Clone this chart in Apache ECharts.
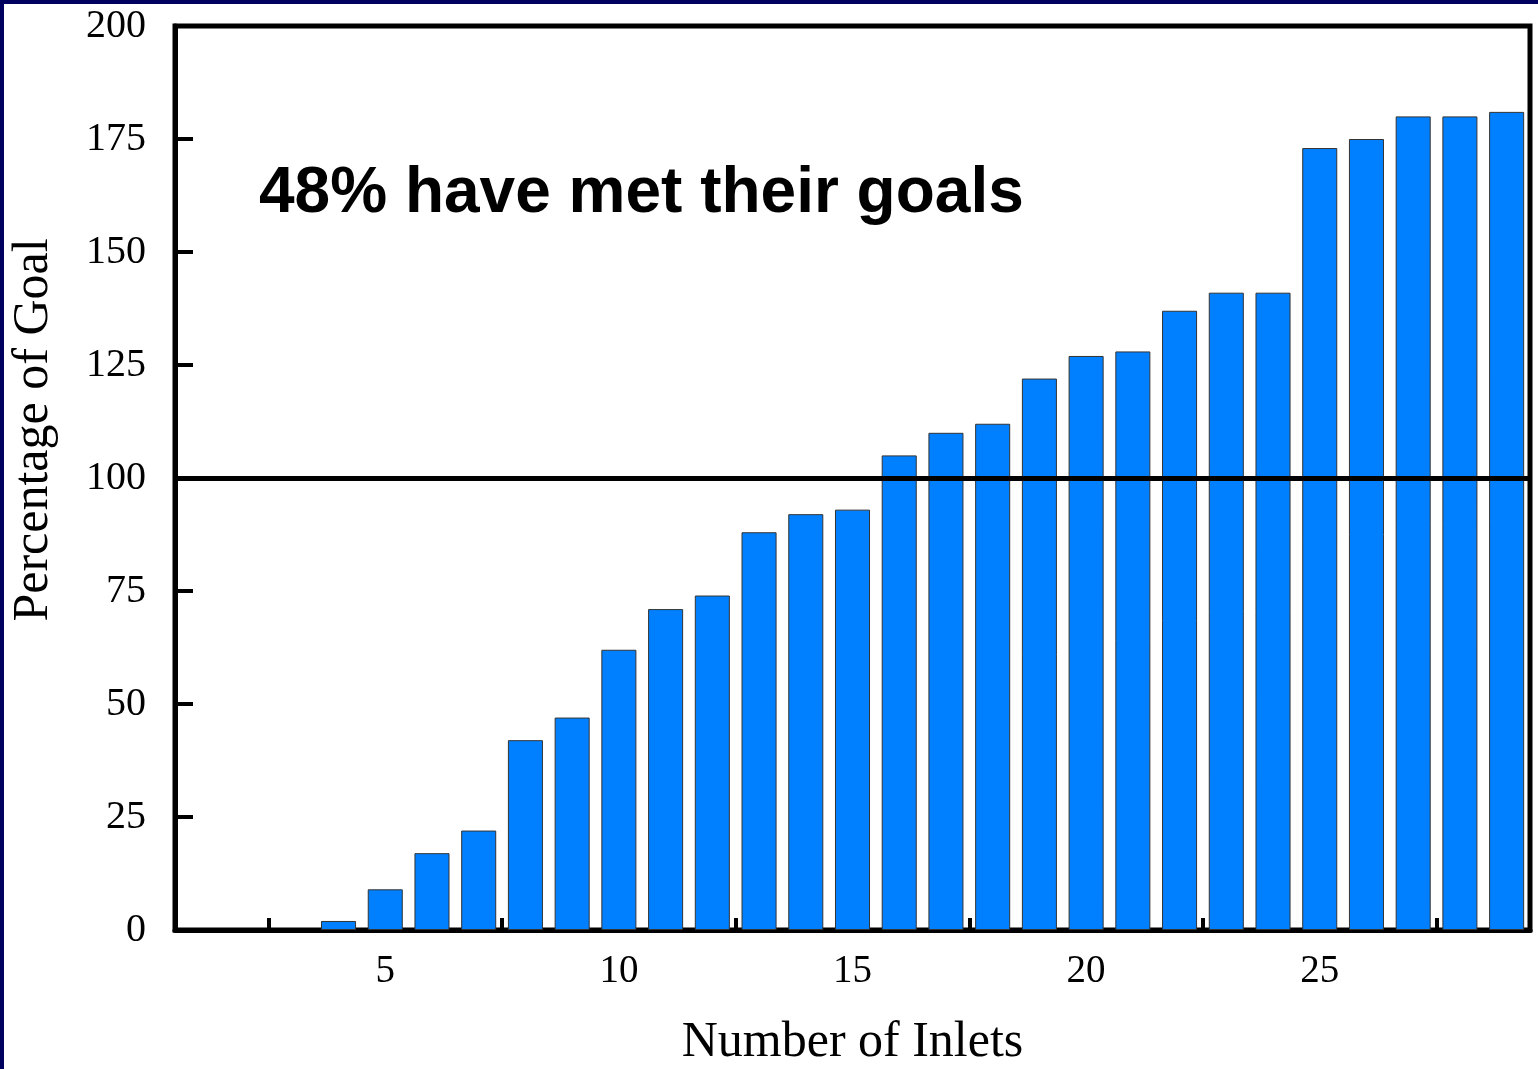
<!DOCTYPE html>
<html>
<head>
<meta charset="utf-8">
<script src="https://cdn.jsdelivr.net/npm/echarts@6/dist/echarts.min.js"></script>
<style>
    html, body { margin: 0; padding: 0; background: #00005e; }
    #main { position: absolute; left: 4px; top: 4px; width: 1534px; height: 1065px; background: #fff; }
</style>
</head>
<body>
<div id="main"></div>
<script>
var inlets = [];
for (var i = 1; i <= 29; i++) inlets.push(String(i));
// percentage of goal, sorted low to high
var pctGoal = [0, 0, 0, 2, 9, 17, 22, 42, 47, 62, 71, 74, 88, 92, 93,
               105, 110, 112, 122, 127, 128, 137, 141, 141, 173, 175, 180, 180, 181];
var goalLine = 100;
var titleText = '48% have met their goals';

var serif = '"Liberation Serif", "Times New Roman", serif';

// zero bars get no outline so nothing shows on the axis
var barData = pctGoal.map(function (v) {
    return v === 0 ? { value: v, itemStyle: { borderWidth: 0 } } : v;
});

var myChart = echarts.init(document.getElementById('main'));
var option = {
    animation: false,
    title: {
        text: titleText,
        left: 250,
        top: 153,
        textStyle: {
            fontFamily: '"Liberation Sans", Arial, sans-serif',
            fontWeight: 'bold',
            fontSize: 64,
            color: '#000'
        }
    },
    grid: {
        left: 171,
        top: 22,
        right: 8,
        bottom: 139,
        outerBoundsMode: 'none',
        containLabel: false,
        show: true,
        borderColor: '#000',
        borderWidth: 5
    },
    xAxis: {
        type: 'category',
        data: inlets,
        name: 'Number of Inlets',
        nameLocation: 'middle',
        nameGap: 88,
        nameTextStyle: { fontFamily: serif, fontSize: 50, color: '#000' },
        axisLine: { lineStyle: { color: '#000', width: 5 } },
        axisTick: {
            show: true,
            inside: true,
            length: 12,
            lineStyle: { color: '#000', width: 4 },
            interval: function (idx) { return idx % 5 === 2; }
        },
        axisLabel: {
            fontFamily: serif,
            fontSize: 39,
            color: '#000',
            margin: 22,
            interval: function (idx) { return idx % 5 === 4; }
        }
    },
    yAxis: {
        type: 'value',
        min: 0,
        max: 200,
        interval: 25,
        name: 'Percentage of Goal',
        nameLocation: 'middle',
        nameGap: 116,
        nameTextStyle: { fontFamily: serif, fontSize: 50, color: '#000', padding: [0, 0, 0, 96] },
        splitLine: { show: false },
        axisLine: { show: true, lineStyle: { color: '#000', width: 5 } },
        axisTick: { show: true, inside: true, length: 18, lineStyle: { color: '#000', width: 4 } },
        axisLabel: { fontFamily: serif, fontSize: 40, color: '#000', margin: 29 }
    },
    series: [{
        type: 'bar',
        data: barData,
        barCategoryGap: '25%',
        itemStyle: { color: '#0080ff', borderColor: '#333', borderWidth: 1 },
        markLine: {
            silent: true,
            symbol: 'none',
            label: { show: false },
            lineStyle: { color: '#000', width: 5, type: 'solid' },
            data: [{ yAxis: goalLine }]
        }
    }]
};
myChart.setOption(option);
</script>
</body>
</html>
